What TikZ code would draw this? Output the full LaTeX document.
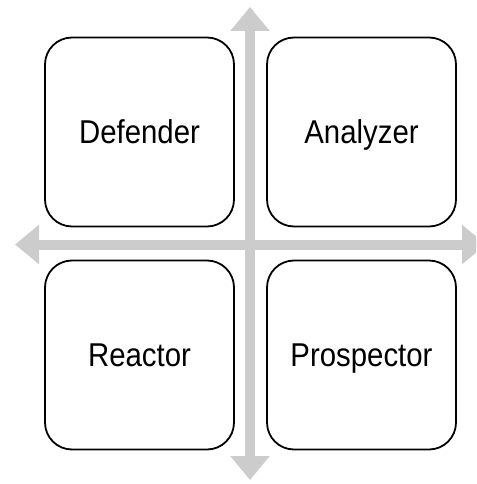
\documentclass[tikz,border=0pt]{standalone}
\usepackage{fontspec}
\setmainfont{Liberation Sans}
\newfontfamily\quadfont[FakeStretch=0.89]{Liberation Sans}
\usetikzlibrary{arrows.meta}

\begin{document}
\begin{tikzpicture}[x=1pt,y=-1pt,
    axis/.style={line width=10pt,draw=gray!40,
        {Triangle[width=38pt,length=24pt]}-{Triangle[width=38pt,length=24pt]}},
    quad/.style={draw,line width=1.8pt,rounded corners=27pt,fill=white,
        minimum width=189pt,minimum height=189pt,
        text height=25pt,text depth=3pt,
        font=\quadfont\fontsize{33}{38}\selectfont}]
    \clip (0,0) rectangle (476,484);
    % the two axes
    \coordinate (top) at (250,7);
    \coordinate (bottom) at (250,480);
    \coordinate (left) at (15,244.5);
    \coordinate (right) at (486,244.5);
    \draw[axis] (top) -- (bottom);
    \draw[axis] (left) -- (right);
    % the four types
    \node[quad] (defender) at (139.5,132) {Defender};
    \node[quad] (analyzer) at (361.5,132) {Analyzer};
    \node[quad] (reactor) at (139.5,355) {Reactor};
    \node[quad] (prospector) at (361.5,355) {Prospector};
\end{tikzpicture}
\end{document}
